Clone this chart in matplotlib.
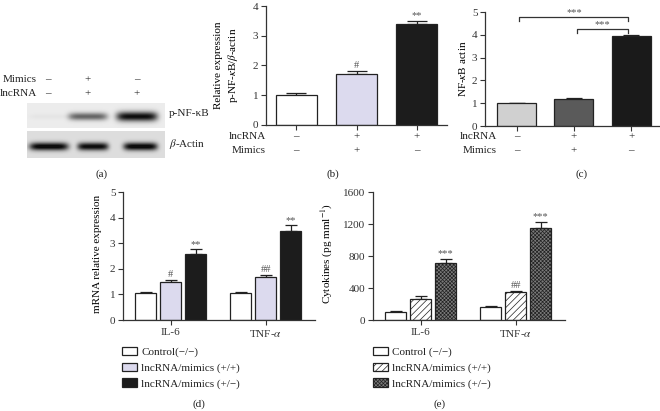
import numpy as np
import matplotlib.pyplot as plt
from matplotlib.patches import Patch
from matplotlib.transforms import blended_transform_factory

plt.rcParams['font.family'] = ['Liberation Serif', 'DejaVu Serif']
plt.rcParams['mathtext.fontset'] = 'stix'
plt.rcParams['font.size'] = 8
plt.rcParams['hatch.linewidth'] = 0.5
plt.rcParams['axes.linewidth'] = 0.9
plt.rcParams['axes.edgecolor'] = '#333333'
plt.rcParams['text.color'] = '#222222'
plt.rcParams['xtick.color'] = '#333333'
plt.rcParams['ytick.color'] = '#333333'

# (a) blot lanes
mimics_signs = ['–', '+', '–']
lncrna_signs = ['–', '+', '+']
pnfkb_band = [0.03, 0.55, 0.92]      # band darkness per lane
actin_band = [0.92, 0.88, 0.92]

# (b) p-NF-kB / beta-actin
b_vals = [1.02, 1.72, 3.38]
b_err = [0.06, 0.09, 0.10]
b_marks = ['', '#', '**']
b_lnc = ['–', '+', '+']
b_mim = ['–', '+', '–']

# (c) NF-kB actin
c_vals = [1.0, 1.17, 3.93]
c_err = [0.03, 0.04, 0.06]
c_lnc = ['–', '+', '+']
c_mim = ['–', '+', '–']

# (d) mRNA relative expression
genes = ['IL-6', 'TNF-$\\alpha$']
d_ctrl = [1.06, 1.06]
d_pp = [1.50, 1.68]
d_pm = [2.58, 3.46]
d_ctrl_err = [0.03, 0.03]
d_pp_err = [0.06, 0.08]
d_pm_err = [0.18, 0.24]
d_pp_marks = ['#', '##']
d_pm_marks = ['**', '**']

# (e) cytokines
e_ctrl = [100, 158]
e_pp = [260, 347]
e_pm = [710, 1148]
e_ctrl_err = [8, 22]
e_pp_err = [40, 20]
e_pm_err = [55, 75]
e_pp_marks = ['', '##']
e_pm_marks = ['***', '***']

legend_labels_d = ['Control(−/−)', 'lncRNA/mimics (+/+)', 'lncRNA/mimics (+/−)']
legend_labels_e = ['Control (−/−)', 'lncRNA/mimics (+/+)', 'lncRNA/mimics (+/−)']

W, H = 660, 411
fig = plt.figure(figsize=(6.6, 4.11), dpi=100)


def px_axes(x0, y0, x1, y1):
    # axes from pixel box (top-left origin)
    return fig.add_axes([x0 / W, 1 - y1 / H, (x1 - x0) / W, (y1 - y0) / H])


def ftext(x, y, s, **kw):
    fig.text(x / W, 1 - y / H, s, va='center', **kw)


def style(ax):
    ax.spines['top'].set_visible(False)
    ax.spines['right'].set_visible(False)
    ax.tick_params(direction='out', length=3.5, width=0.8, labelsize=8, pad=2)


edge = '#222222'
mark_color = '#555555'
mark_size = 7.5

# ---------- (a) western blot ----------
axa = px_axes(27, 103, 165, 158)
ny, nx = 55, 138
img = np.zeros((ny, nx))
img[0:25, :] = 0.08
img[28:55, :] = 0.14
yy, xx = np.mgrid[0:ny, 0:nx]
top_lanes = [(2, 41), (41, 80), (89, 130)]
bot_lanes = [(2, 41), (50, 81), (96, 130)]
for (x0, x1), s in zip(top_lanes, pnfkb_band):
    xc, hw = (x0 + x1) / 2, (x1 - x0) / 2
    img += s * np.exp(-((yy - 13) / (2.5 + 2.5 * s)) ** 2) * np.exp(-((xx - xc) / hw) ** 6) * (yy < 25)
for (x0, x1), s in zip(bot_lanes, actin_band):
    xc, hw = (x0 + x1) / 2, (x1 - x0) / 2
    img += s * np.exp(-((yy - 43) / 4.0) ** 2) * np.exp(-((xx - xc) / hw) ** 6) * (yy >= 28)
axa.imshow(np.clip(img, 0, 1), cmap='gray_r', vmin=0, vmax=1.05, aspect='auto',
           extent=(0, nx, ny, 0), interpolation='bilinear')
axa.axis('off')

ftext(37, 80, 'Mimics', ha='right')
ftext(37, 94, 'lncRNA', ha='right')
for xp, m, l in zip([48, 88, 137], mimics_signs, lncrna_signs):
    ftext(xp, 80, m, ha='center')
    ftext(xp, 94, l, ha='center')
ftext(169, 114, 'p-NF-κB', ha='left')
ftext(169, 144, '$\\beta$-Actin', ha='left')
ftext(102, 174, '(a)', ha='center')

# ---------- (b) ----------
axb = px_axes(266, 6, 447, 125)
style(axb)
xb = np.arange(len(b_vals))
axb.bar(xb, b_vals, width=0.68, color=['white', '#dcdaee', '#1c1c1c'],
        edgecolor=edge, linewidth=0.9, zorder=2)
axb.errorbar(xb, b_vals, yerr=[np.zeros(3), b_err], fmt='none', ecolor=edge,
             elinewidth=0.9, capsize=7, capthick=0.9, zorder=1)
for x, v, e, m in zip(xb, b_vals, b_err, b_marks):
    axb.text(x, v + e + 0.03, m, ha='center', va='bottom', fontsize=mark_size, color=mark_color)
axb.set_xlim(-0.5, 2.5)
axb.set_ylim(0, 4)
axb.set_yticks([0, 1, 2, 3, 4])
axb.set_xticks(xb)
axb.set_xticklabels([])
axb.set_ylabel('Relative expression\np-NF-$\\kappa$B/$\\beta$-actin', linespacing=1.3)
axb.yaxis.set_label_coords(-0.145, 0.5)
tb = blended_transform_factory(axb.transData, axb.transAxes)
axb.text(-0.5, -0.10, 'lncRNA', transform=tb, ha='right', va='center')
axb.text(-0.5, -0.218, 'Mimics', transform=tb, ha='right', va='center')
for x, l, m in zip(xb, b_lnc, b_mim):
    axb.text(x, -0.10, l, transform=tb, ha='center', va='center')
    axb.text(x, -0.218, m, transform=tb, ha='center', va='center')
ftext(333, 174, '(b)', ha='center')

# ---------- (c) ----------
axc = px_axes(485, 12, 660, 126)
style(axc)
xc = np.arange(len(c_vals))
axc.bar(xc, c_vals, width=0.68, color=['#d0d0d0', '#5a5a5a', '#1a1a1a'],
        edgecolor=edge, linewidth=0.9, zorder=2)
axc.errorbar(xc, c_vals, yerr=[np.zeros(3), c_err], fmt='none', ecolor=edge,
             elinewidth=0.9, capsize=6, capthick=0.9, zorder=1)
# significance brackets
for (i, j), yb in zip([(0, 2), (1, 2)], [4.77, 4.24]):
    xl, xr = xc[i] + 0.05, xc[j] - 0.05
    axc.plot([xl, xl, xr, xr], [yb - 0.18, yb, yb, yb - 0.18], color='#333333', lw=0.9,
             clip_on=False)
    axc.text((xl + xr) / 2, yb + 0.02, '***', ha='center', va='bottom', fontsize=mark_size,
             color=mark_color)
axc.set_xlim(-0.55, 2.5)
axc.set_ylim(0, 5)
axc.set_yticks([0, 1, 2, 3, 4, 5])
axc.set_xticks(xc)
axc.set_xticklabels([])
axc.set_ylabel('NF-$\\kappa$B actin')
axc.yaxis.set_label_coords(-0.10, 0.5)
tc = blended_transform_factory(axc.transData, axc.transAxes)
axc.text(-0.34, -0.096, 'lncRNA', transform=tc, ha='right', va='center')
axc.text(-0.34, -0.219, 'Mimics', transform=tc, ha='right', va='center')
for x, l, m in zip(xc, c_lnc, c_mim):
    axc.text(x, -0.096, l, transform=tc, ha='center', va='center')
    axc.text(x, -0.219, m, transform=tc, ha='center', va='center')
ftext(582, 174, '(c)', ha='center')


# ---------- grouped panels (d) and (e) ----------
def grouped(ax, series, errs, styles, marks, ylim, yticks, cap):
    style(ax)
    xg = np.arange(len(genes))
    step, width = 0.263, 0.226
    for k, (vals, err, st) in enumerate(zip(series, errs, styles)):
        pos = xg + (k - 1) * step
        ax.bar(pos, vals, width=width, edgecolor=edge, linewidth=0.9, zorder=2, **st)
        ax.errorbar(pos, vals, yerr=[np.zeros(len(vals)), err], fmt='none', ecolor=edge,
                    elinewidth=0.9, capsize=cap, capthick=0.9, zorder=1)
        if marks[k] is not None:
            for p, v, e, m in zip(pos, vals, err, marks[k]):
                ax.text(p, v + e + ylim[1] * 0.005, m, ha='center', va='bottom',
                        fontsize=mark_size, color=mark_color)
    ax.set_xlim(-0.5, 1.52)
    ax.set_ylim(*ylim)
    ax.set_yticks(yticks)
    ax.set_xticks(xg)
    ax.set_xticklabels(genes, fontsize=8)
    return ax


def legend_at(ax, handles, labels, x, y):
    ax.legend(handles, labels, loc='upper left', bbox_to_anchor=(x / W, 1 - y / H),
              bbox_transform=fig.transFigure, frameon=False, borderpad=0, borderaxespad=0,
              handlelength=1.35, handleheight=0.8, handletextpad=0.4, labelspacing=0.48,
              fontsize=8)


styles_d = [dict(facecolor='white'), dict(facecolor='#dcdaee'), dict(facecolor='#1c1c1c')]
axd = px_axes(123, 192, 315, 320)
grouped(axd, [d_ctrl, d_pp, d_pm], [d_ctrl_err, d_pp_err, d_pm_err], styles_d,
        [None, d_pp_marks, d_pm_marks], (0, 5), [0, 1, 2, 3, 4, 5], 4)
axd.set_ylabel('mRNA relative expression')
axd.yaxis.set_label_coords(-0.11, 0.52)
hd = [Patch(edgecolor=edge, linewidth=0.9, **s) for s in styles_d]
legend_at(axd, hd, legend_labels_d, 122, 347)
ftext(199, 404, '(d)', ha='center')

styles_e = [dict(facecolor='white'), dict(facecolor='white', hatch='/////'),
            dict(facecolor='#7a7a7a', hatch='xxxxxxxxx')]
axe = px_axes(373, 192, 565, 320)
grouped(axe, [e_ctrl, e_pp, e_pm], [e_ctrl_err, e_pp_err, e_pm_err], styles_e,
        [None, e_pp_marks, e_pm_marks], (0, 1600), [0, 400, 800, 1200, 1600], 4)
axe.set_ylabel('Cytokines (pg mml$^{-1}$)')
axe.yaxis.set_label_coords(-0.20, 0.52)
he = [Patch(edgecolor=edge, linewidth=0.9, **s) for s in styles_e]
legend_at(axe, he, legend_labels_e, 373, 347)
ftext(440, 404, '(e)', ha='center')

fig.savefig('out.png', dpi=100)
